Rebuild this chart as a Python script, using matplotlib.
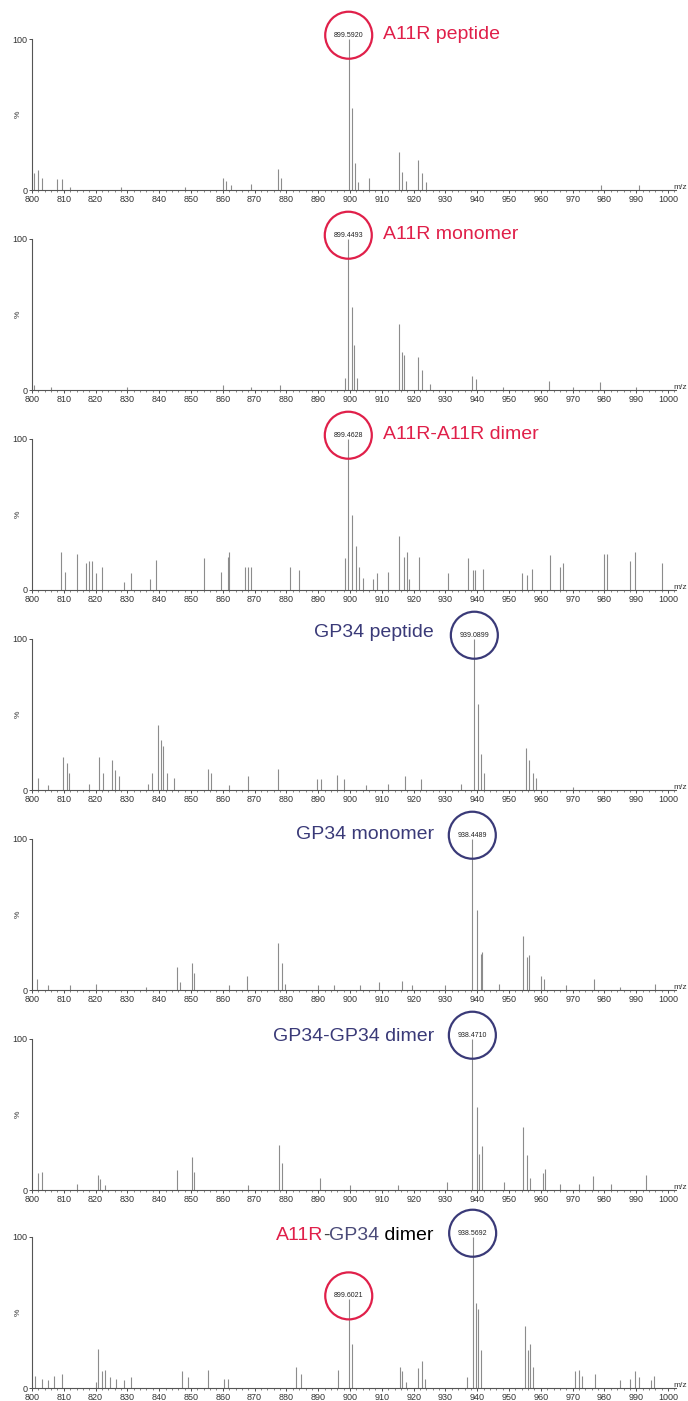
import matplotlib
matplotlib.use("Agg")
import matplotlib.pyplot as plt
from matplotlib.patches import Ellipse
from matplotlib.ticker import MultipleLocator

plt.rcParams['font.family'] = ['Liberation Sans', 'DejaVu Sans']

RED = '#e0204a'
NAVY = '#3a3a78'
PEAK_GREY = '#8c8c8c'

XMIN, XMAX = 800, 1002.5

# A11R peptide
a11r_pep_mz = [800.5, 802, 803, 807.9, 809.5, 812, 828, 848, 860, 861, 862.5, 869, 877.5, 878.3,
               899.59, 900.6, 901.5, 902.5, 906, 915.4, 916.5, 917.5, 921.5, 922.5, 924, 979, 991]
a11r_pep_int = [11, 13, 8, 7, 7, 2, 2, 2, 8, 6, 3, 4, 14, 8,
                100, 54, 18, 5, 8, 25, 12, 6, 20, 11, 5, 3, 3]

# A11R monomer
a11r_mono_mz = [800.5, 806, 830, 860, 869, 878, 898.5, 899.45, 900.5, 901.2, 902.3, 915.3, 916.3,
                917, 921.5, 922.5, 925, 938.5, 939.5, 948, 962.5, 970, 978.5, 990]
a11r_mono_int = [3, 2, 2, 3, 2, 3, 8, 100, 55, 30, 8, 44, 25,
                 23, 22, 13, 4, 9, 7, 2, 6, 2, 5, 2]

# A11R-A11R dimer
a11r_dim_mz = [809, 810.5, 814, 817, 818, 819, 820, 822, 829, 831, 837, 839, 854, 859.5, 861.5, 862,
               867, 868, 869, 881, 884, 898.4, 899.46, 900.5, 901.9, 902.8, 904, 907.1, 908.4, 912,
               915.4, 917, 917.8, 918.7, 921.7, 930.7, 937.1, 938.7, 939.3, 941.8, 954, 955.6, 957.3,
               962.9, 966, 967, 979.9, 980.9, 988, 989.6, 998]
a11r_dim_int = [25, 12, 24, 18, 19, 19, 11, 15, 5, 11, 7, 20, 21, 12, 22, 25,
                15, 15, 15, 15, 13, 21, 100, 50, 29, 15, 8, 7, 11, 12,
                36, 22, 25, 7, 22, 11, 21, 13, 13, 14, 11, 10, 14,
                23, 15, 18, 24, 24, 19, 25, 18]

# GP34 peptide
gp34_pep_mz = [802, 805, 809.8, 810.9, 811.5, 818, 821.2, 822.4, 825, 826.1, 827.5, 836.5, 837.6,
               839.7, 840.5, 841.3, 842.5, 844.5, 855.4, 856.3, 862, 868, 877.5, 889.5, 891, 895.8,
               898, 905, 912, 917.3, 922.3, 935, 939.09, 940.3, 941.1, 942, 955.3, 956.3, 957.5,
               958.5, 970]
gp34_pep_int = [8, 3, 22, 18, 11, 4, 22, 11, 20, 13, 9, 4, 11,
                43, 33, 29, 11, 8, 14, 11, 3, 9, 14, 7, 7, 10,
                7, 3, 4, 9, 7, 4, 100, 57, 24, 11, 28, 20, 11,
                8, 2]

# GP34 monomer
gp34_mono_mz = [801.5, 805, 812, 820, 836, 845.5, 846.5, 850.2, 851, 862, 867.5, 877.5, 878.5,
                879.5, 890, 895, 903, 909.1, 916.5, 919.5, 930, 938.45, 940, 941.1, 941.6, 947,
                954.5, 955.8, 956.4, 960.2, 961, 968, 976.7, 985, 996]
gp34_mono_int = [7, 3, 3, 4, 2, 15, 5, 18, 11, 3, 9, 31, 18,
                 4, 3, 3, 3, 5, 6, 3, 3, 100, 53, 24, 25, 4,
                 36, 22, 23, 9, 7, 3, 7, 2, 4]

# GP34-GP34 dimer
gp34_dim_mz = [802, 803, 814, 820.9, 821.5, 823, 845.5, 850.2, 851, 868, 877.8, 878.7, 890.6, 900,
               915, 930.6, 938.47, 939.8, 940.6, 941.5, 948.4, 954.5, 955.6, 956.5, 960.7, 961.3,
               966, 972, 976.5, 982, 993]
gp34_dim_int = [11, 12, 4, 10, 7, 3, 13, 22, 12, 3, 30, 18, 8, 3,
                3, 5, 100, 55, 24, 29, 5, 42, 23, 8, 11, 14,
                4, 4, 9, 4, 10]

# A11R-GP34 dimer
mixed_dim_mz = [801, 803, 805, 807, 809.5, 820, 820.9, 822, 823, 824.5, 826.5, 829, 831, 847.1, 849,
                855.4, 860.5, 861.5, 883, 884.5, 896.3, 899.60, 900.6, 915.7, 916.5, 917.5, 921.5,
                922.5, 923.5, 936.7, 938.56, 939.6, 940.3, 941.1, 955, 955.9, 956.5, 957.5, 970.8,
                972, 973, 977, 985, 988, 989.5, 991, 994.5, 995.5]
mixed_dim_int = [8, 6, 5, 8, 9, 4, 26, 11, 12, 7, 6, 5, 7, 11, 7,
                 12, 6, 6, 14, 9, 12, 59, 29, 14, 11, 4, 13,
                 18, 6, 7, 100, 56, 52, 25, 41, 25, 29, 14, 11,
                 12, 8, 9, 5, 6, 11, 7, 5, 8]

# circled peaks: (m/z, label, circle colour, centre height in %)
circles = [
    [(899.59, '899.5920', RED, 102.5)],
    [(899.45, '899.4493', RED, 102.5)],
    [(899.46, '899.4628', RED, 102.5)],
    [(939.09, '939.0899', NAVY, 102.5)],
    [(938.45, '938.4489', NAVY, 102.5)],
    [(938.47, '938.4710', NAVY, 102.5)],
    [(938.56, '938.5692', NAVY, 102.5), (899.60, '899.6021', RED, 61)],
]

# titles: list of (text, colour) pieces, anchor m/z, alignment, height in %
titles = [
    ([('A11R peptide', RED)], 910.4, 'left', 103),
    ([('A11R monomer', RED)], 910.4, 'left', 103),
    ([('A11R-A11R dimer', RED)], 910.4, 'left', 103),
    ([('GP34 peptide', NAVY)], 926.4, 'right', 104),
    ([('GP34 monomer', NAVY)], 926.4, 'right', 103.3),
    ([('GP34-GP34 dimer', NAVY)], 926.4, 'right', 101.7),
    ([('A11R', RED), ('-', '#444444'), ('GP34', '#4a4a78'), (' dimer', 'black')], 926.4, 'right', 101.3),
]

spectra = [(a11r_pep_mz, a11r_pep_int), (a11r_mono_mz, a11r_mono_int),
           (a11r_dim_mz, a11r_dim_int), (gp34_pep_mz, gp34_pep_int),
           (gp34_mono_mz, gp34_mono_int), (gp34_dim_mz, gp34_dim_int),
           (mixed_dim_mz, mixed_dim_int)]

W, H = 688, 1401
left_px, right_px = 32, 676
plot_h = 151
fig = plt.figure(figsize=(W / 100, H / 100), dpi=100)
renderer = fig.canvas.get_renderer()

px_per_x = (right_px - left_px) / (XMAX - XMIN)
px_per_y = plot_h / 100.0
r_px = 23.5

for i, (mz, inten) in enumerate(spectra):
    base = min(190 + 200 * i, 1388)
    ax = fig.add_axes([left_px / W, 1 - base / H, (right_px - left_px) / W, plot_h / H])
    ax.vlines(mz, 0, inten, color=PEAK_GREY, lw=0.8)
    ax.set_xlim(XMIN, XMAX)
    ax.set_ylim(0, 100)
    for s in ('top', 'right'):
        ax.spines[s].set_visible(False)
    for s in ('left', 'bottom'):
        ax.spines[s].set_linewidth(0.8)
        ax.spines[s].set_color('#555555')
    ax.xaxis.set_major_locator(MultipleLocator(10))
    ax.xaxis.set_minor_locator(MultipleLocator(2))
    ax.set_yticks([0, 100])
    ax.tick_params(axis='both', which='major', labelsize=6.5, length=2.5, width=0.6, pad=0.8,
                   colors='#333333')
    ax.tick_params(axis='x', which='minor', length=1.5, width=0.5, colors='#555555')
    ax.text(-0.022, 0.5, '%', transform=ax.transAxes, rotation=90, fontsize=6,
            ha='center', va='center', color='#333333')
    # axis unit at the right end of the baseline
    ax.text(XMAX - 0.7, 1.5, 'm/z', fontsize=6, ha='left', va='center',
            color='#333333', clip_on=False)

    for cx, label, col, cy in circles[i]:
        ax.add_patch(Ellipse((cx, cy), 2 * r_px / px_per_x, 2 * r_px / px_per_y,
                             fill=False, edgecolor=col, lw=1.6, clip_on=False, zorder=5))
        ax.text(cx, cy, label, fontsize=5, ha='center', va='center', color='#222222',
                zorder=6, clip_on=False)

    pieces, anchor, align, ty = titles[i]
    texts = [ax.text(0, ty, t, fontsize=14, color=c, va='center', ha='left', clip_on=False)
             for t, c in pieces]
    widths = [t.get_window_extent(renderer=renderer).width / px_per_x for t in texts]
    start = anchor if align == 'left' else anchor - sum(widths)
    for t, w in zip(texts, widths):
        t.set_x(start)
        start += w

fig.savefig('out.png', dpi=100, facecolor='white')
